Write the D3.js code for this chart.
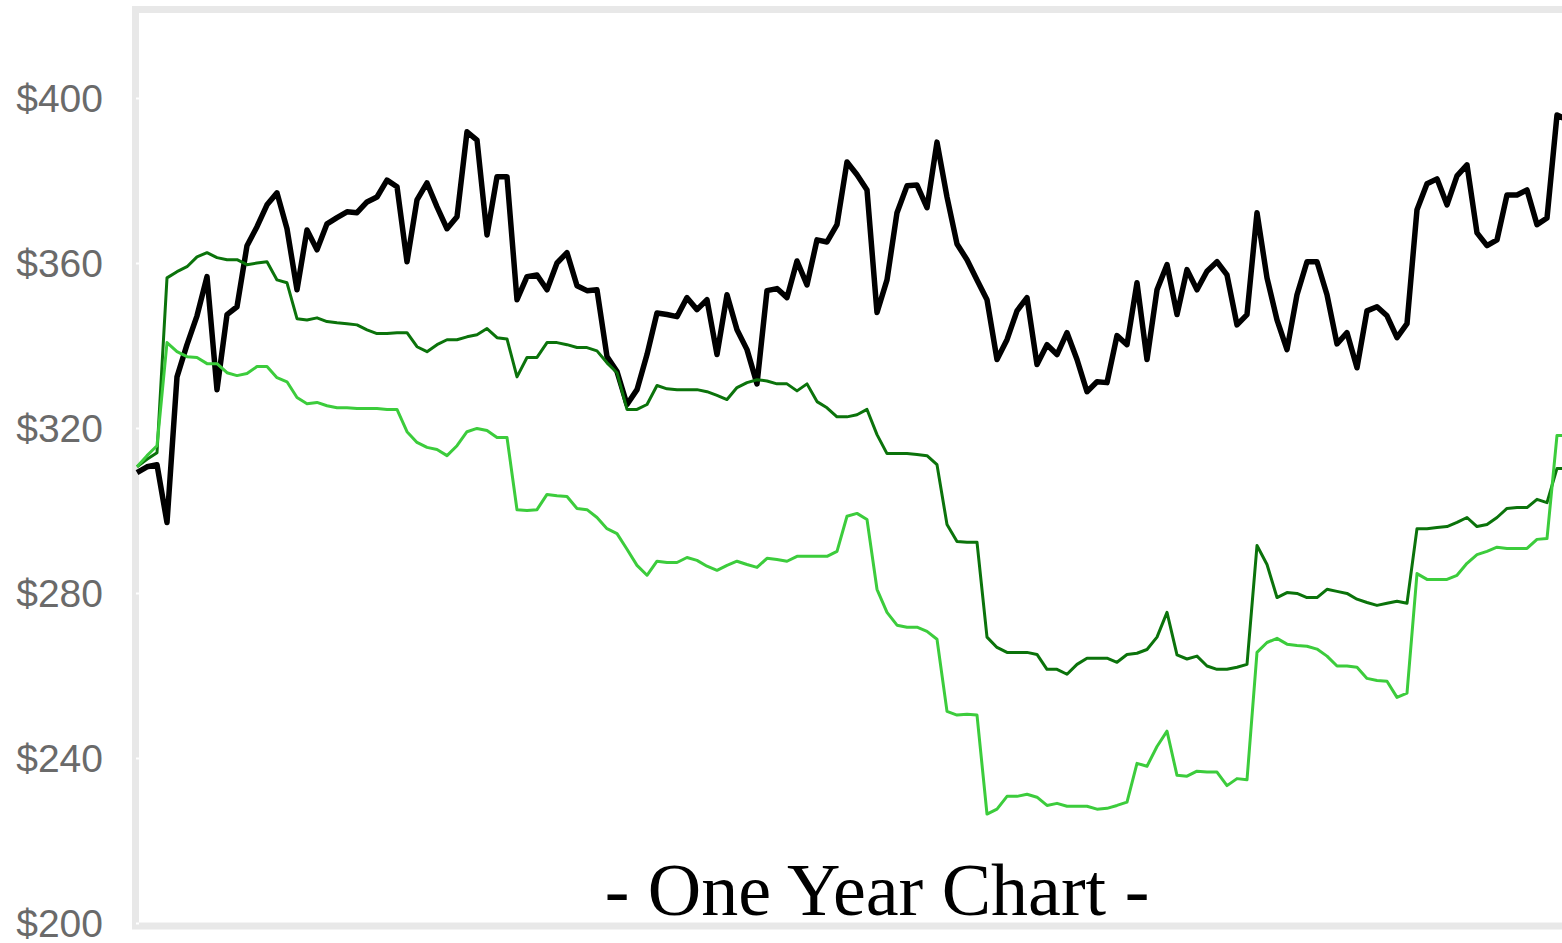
<!DOCTYPE html>
<html>
<head>
<meta charset="utf-8">
<script src="https://cdn.jsdelivr.net/npm/d3@7"></script>
<style>
  body { margin: 0; background: #fff; overflow: hidden; }
  svg { display: block; }
</style>
</head>
<body>
<div id="chart"></div>
<script>
// one value every ~2 trading days
var stockPrice = [309.2,310.6,311.1,297.1,332.4,340.2,347.2,356.7,329.3,347.5,
  349.4,364.2,368.8,374.1,377.0,368.3,353.5,368.0,363.2,369.5,
  371.0,372.4,372.2,374.8,376.0,380.1,378.5,360.3,375.3,379.4,
  373.6,368.3,371.2,391.8,389.8,366.8,380.9,380.9,351.1,356.7,
  357.1,353.5,360.0,362.5,354.5,353.3,353.5,337.3,333.7,325.7,
  329.3,337.8,347.9,347.5,347.0,351.6,348.7,351.1,337.8,352.3,
  343.8,339.0,330.7,353.3,353.8,351.6,360.5,354.7,365.6,365.1,
  369.3,384.5,381.4,377.7,348.0,355.9,372.2,378.7,378.9,373.4,
  389.3,376.0,364.6,360.8,355.9,351.1,336.6,341.4,348.4,351.6,
  335.4,340.2,337.8,343.1,336.6,328.8,331.2,331.0,342.4,340.2,
  355.2,336.6,353.5,359.6,347.5,358.4,353.5,358.0,360.3,357.1,
  345.0,347.5,372.2,356.4,346.2,339.0,352.3,360.3,360.3,352.3,
  340.4,343.1,334.6,348.4,349.4,347.2,341.9,345.3,372.9,379.2,
  380.4,374.1,381.1,383.8,367.3,364.2,365.6,376.5,376.5,377.7,
  369.3,370.9,395.9,394.7];

var darkGreen = [310.6,312.4,314.0,356.4,357.9,359.1,361.5,362.5,361.3,360.8,
  360.8,359.6,360.0,360.3,355.9,355.2,346.5,346.2,346.7,345.8,
  345.5,345.3,345.0,343.8,342.9,342.9,343.1,343.1,339.7,338.5,
  340.2,341.4,341.4,342.1,342.6,344.1,341.9,341.6,332.4,337.1,
  337.1,340.7,340.7,340.2,339.5,339.5,338.7,335.8,333.4,324.5,
  324.5,325.7,330.3,329.5,329.3,329.3,329.3,328.8,327.9,326.9,
  329.8,331.0,331.7,331.4,330.7,330.7,329.0,330.7,326.4,324.9,
  322.7,322.7,323.2,324.5,318.4,313.8,313.8,313.8,313.6,313.3,
  311.1,296.6,292.5,292.3,292.3,269.3,266.8,265.6,265.6,265.6,
  265.1,261.5,261.5,260.3,262.7,264.2,264.2,264.2,263.2,265.1,
  265.4,266.3,269.3,275.3,265.0,264.0,264.7,262.3,261.5,261.5,
  262.0,262.7,291.5,286.9,278.9,280.1,279.9,278.9,278.9,280.9,
  280.4,279.9,278.5,277.7,277.0,277.5,278.0,277.5,295.6,295.6,
  295.9,296.1,297.1,298.3,296.1,296.6,298.3,300.5,300.7,300.7,
  302.7,301.9,310.2,310.2];

var lightGreen = [310.6,313.3,315.7,340.7,338.5,337.3,337.1,335.6,335.6,333.4,
  332.7,333.2,334.9,334.9,332.2,331.2,327.4,325.9,326.2,325.4,
  324.9,324.9,324.7,324.7,324.7,324.5,324.5,319.1,316.5,315.3,
  314.8,313.3,315.7,319.1,319.9,319.4,317.7,317.7,300.2,300.0,
  300.2,303.9,303.6,303.4,300.5,300.2,298.3,295.6,294.4,290.6,
  286.7,284.3,287.7,287.4,287.4,288.6,287.9,286.5,285.5,286.7,
  287.7,286.9,286.2,288.4,288.1,287.7,288.9,288.9,288.9,288.9,
  290.1,298.6,299.3,297.8,280.9,275.3,272.2,271.7,271.7,270.7,
  268.8,251.3,250.4,250.6,250.4,226.4,227.6,230.7,230.7,231.2,
  230.5,228.5,229.0,228.3,228.3,228.3,227.6,227.8,228.5,229.3,
  238.7,238.0,242.8,246.5,235.8,235.6,236.8,236.6,236.6,233.3,
  235.0,234.7,265.6,268.0,269.0,267.6,267.3,267.1,266.4,264.7,
  262.3,262.3,262.0,259.3,258.8,258.6,254.7,255.7,284.7,283.3,
  283.3,283.3,284.3,287.2,289.3,290.1,291.1,290.8,290.8,290.8,
  293.0,293.2,318.2,318.2];

var yTicks = [200, 240, 280, 320, 360, 400];
var title = "- One Year Chart -";

var width = 1562;
var height = 943;

var svg = d3.select("#chart")
            .append("svg")
            .attr("width", width)
            .attr("height", height);

var x = d3.scaleLinear()
          .domain([0, 142])
          .range([137, 1557]);

var y = d3.scaleLinear()
          .domain([200, 420])
          .range([923, 15.5]);

// plot frame, runs off the right edge
svg.append("rect")
   .attr("x", 135.5)
   .attr("y", 9.5)
   .attr("width", 1600)
   .attr("height", 916.5)
   .attr("fill", "#fff")
   .attr("stroke", "#e8e8e8")
   .attr("stroke-width", 7);

// labels
var yAxis = svg.append("g")
   .attr("transform", "translate(106,0)")
   .call(d3.axisLeft(y)
           .tickValues(yTicks)
           .tickSize(0)
           .tickPadding(3)
           .tickFormat(function(d) { return "$" + d; }));
yAxis.select(".domain").remove();
yAxis.selectAll("text")
     .attr("font-family", "'Liberation Sans', Arial, sans-serif")
     .attr("font-size", 39)
     .attr("fill", "#6a6a6a")
     .attr("dy", "0.34em");

// small white notches in the frame
var notches = svg.append("g")
   .attr("transform", "translate(139,0)")
   .call(d3.axisLeft(y).tickValues(yTicks).tickSize(3).tickFormat(""));
notches.select(".domain").remove();
notches.selectAll("line").attr("stroke", "#fff").attr("stroke-width", 2);

var line = d3.line()
             .x(function(d, i) { return x(i); })
             .y(function(d) { return y(d); });

var series = [
  { values: stockPrice, color: "#000000", w: 5.5 },
  { values: darkGreen,  color: "#0b730b", w: 3 },
  { values: lightGreen, color: "#3ccc3c", w: 3 }
];

svg.selectAll(".series")
   .data(series)
   .enter()
   .append("path")
   .classed("series", true)
   .attr("d", function(d) { return line(d.values); })
   .attr("fill", "none")
   .attr("stroke", function(d) { return d.color; })
   .attr("stroke-width", function(d) { return d.w; })
   .attr("stroke-linejoin", "round");

svg.append("text")
   .attr("x", 877)
   .attr("y", 915)
   .attr("text-anchor", "middle")
   .attr("font-family", "'Liberation Serif', 'Times New Roman', serif")
   .attr("font-size", 74)
   .attr("fill", "#000")
   .text(title);
</script>
</body>
</html>
